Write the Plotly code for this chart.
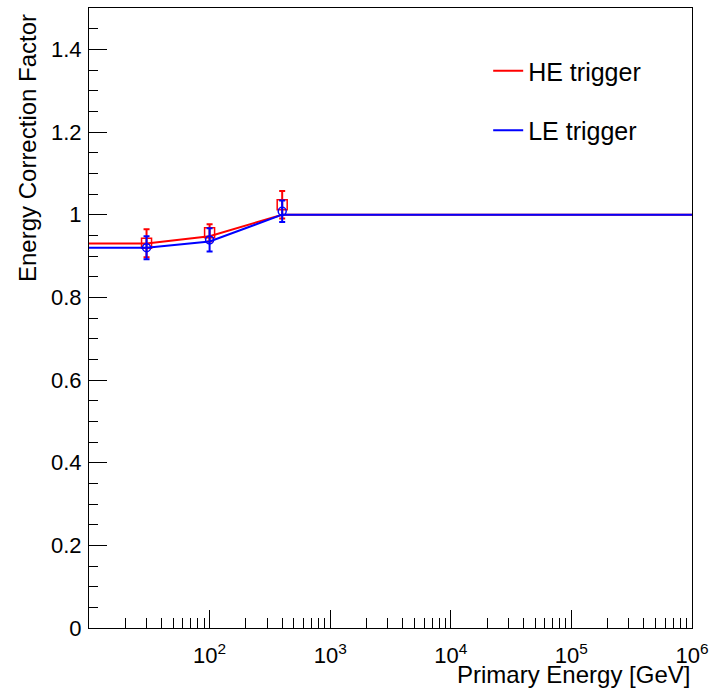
import plotly.graph_objects as go

# ---- data ----
energy = [30, 100, 400]
he_factor = [0.931, 0.956, 1.024]
he_err = [0.034, 0.021, 0.033]
le_factor = [0.920, 0.939, 1.008]
le_err = [0.028, 0.028, 0.026]

curve_energy = [10, 30, 100, 400, 1e6]
he_curve = [0.930, 0.930, 0.948, 1.0, 1.0]
le_curve = [0.920, 0.920, 0.935, 1.0, 1.0]

x_tickvals = [1e2, 1e3, 1e4, 1e5, 1e6]
x_ticktext = ["10<sup>2</sup>", "10<sup>3</sup>", "10<sup>4</sup>",
              "10<sup>5</sup>", "10<sup>6</sup>"]

FONT = "Liberation Sans, Arial, Helvetica, sans-serif"
RED = "#ff0000"
BLUE = "#0000ff"

fig = go.Figure()

fig.add_trace(go.Scatter(x=curve_energy, y=he_curve, mode="lines",
                         line=dict(color=RED, width=2), name="HE trigger",
                         legendgroup="he"))
fig.add_trace(go.Scatter(x=energy, y=he_factor, mode="markers",
                         marker=dict(symbol="square-open", size=10, color=RED,
                                     line=dict(width=1.5, color=RED)),
                         error_y=dict(type="data", array=he_err, color=RED,
                                      thickness=2, width=3),
                         showlegend=False, legendgroup="he"))
fig.add_trace(go.Scatter(x=curve_energy, y=le_curve, mode="lines",
                         line=dict(color=BLUE, width=2), name="LE trigger",
                         legendgroup="le"))
fig.add_trace(go.Scatter(x=energy, y=le_factor, mode="markers",
                         marker=dict(symbol="circle-open", size=8, color=BLUE,
                                     line=dict(width=1.5, color=BLUE)),
                         error_y=dict(type="data", array=le_err, color=BLUE,
                                      thickness=2, width=3),
                         showlegend=False, legendgroup="le"))

fig.update_layout(
    width=713, height=691,
    margin=dict(l=89, r=21, t=8, b=63),
    paper_bgcolor="white", plot_bgcolor="white",
    font=dict(family=FONT, size=22, color="black"),
    showlegend=True,
    legend=dict(x=0.662, y=1 - 40 / 620, xanchor="left", yanchor="top",
                bgcolor="rgba(0,0,0,0)", borderwidth=0,
                font=dict(family=FONT, size=25, color="black"),
                tracegroupgap=24, traceorder="grouped"),
)

fig.update_xaxes(
    type="log", range=[1, 6.0004], automargin=False,
    tickmode="array", tickvals=x_tickvals, ticktext=x_ticktext,
    ticks="inside", ticklen=18, tickwidth=1, tickcolor="black",
    showline=True, linecolor="black", linewidth=1, mirror=True,
    showgrid=False, zeroline=False,
    tickfont=dict(family=FONT, size=22),
    ticklabelstandoff=8,
    minor=dict(ticks="inside", ticklen=10, tickwidth=1, tickcolor="black",
               dtick="D1", showgrid=False),
)
fig.update_yaxes(
    range=[0, 1.5], dtick=0.2, tick0=0, automargin=False,
    ticks="inside", ticklen=18, tickwidth=1, tickcolor="black",
    showline=True, linecolor="black", linewidth=1, mirror=True,
    showgrid=False, zeroline=False,
    tickfont=dict(family=FONT, size=22),
    ticklabelstandoff=2,
    minor=dict(ticks="inside", ticklen=9, tickwidth=1, tickcolor="black",
               dtick=0.05, showgrid=False),
)

fig.add_annotation(text="Energy Correction Factor", textangle=-90,
                   xref="paper", yref="paper",
                   x=(27 - 89) / 603, y=1 - 4 / 620,
                   xanchor="center", yanchor="top", showarrow=False,
                   font=dict(family=FONT, size=24, color="black"))
fig.add_annotation(text="Primary Energy [GeV]",
                   xref="paper", yref="paper",
                   x=1, y=-(675 - 628) / 620,
                   xanchor="right", yanchor="middle", showarrow=False,
                   font=dict(family=FONT, size=24, color="black"))

fig.write_html("out.html")
